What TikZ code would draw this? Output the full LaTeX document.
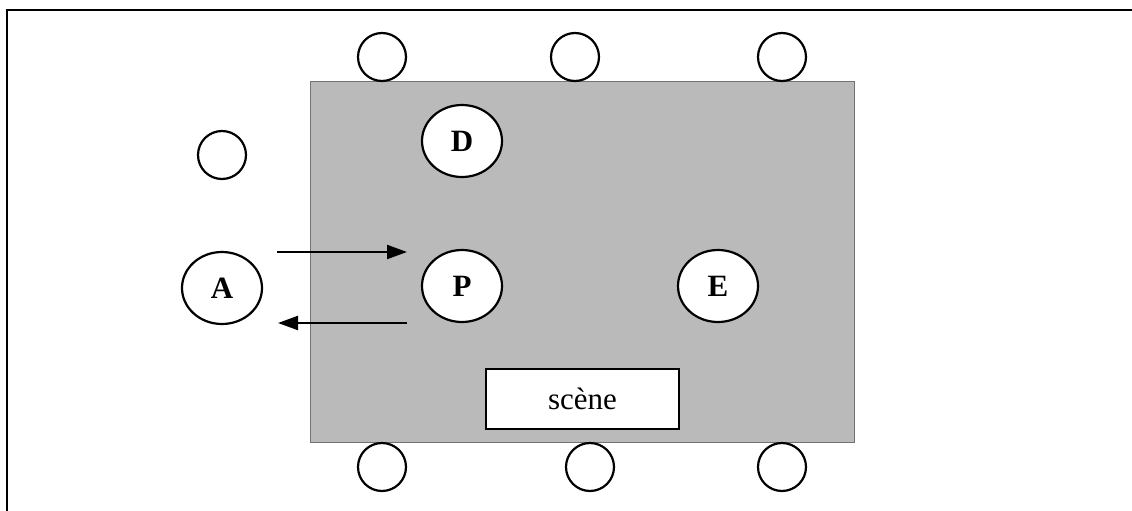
\documentclass[tikz,border=0pt]{standalone}
\usepackage{fontspec}
\setmainfont{Liberation Serif}
\usetikzlibrary{arrows.meta,shapes.geometric}
\tikzset{
  seat/.style={draw=black, line width=2.2pt, fill=white, circle, minimum size=48pt, inner sep=0pt},
  person/.style={draw=black, line width=2.2pt, fill=white, ellipse, minimum width=80pt, minimum height=72pt, inner sep=0pt, font=\fontsize{31}{31}\selectfont\bfseries},
  flow/.style={line width=2.2pt, -{Triangle[length=20pt,width=14pt]}},
}
\begin{document}
\begin{tikzpicture}[x=1pt,y=-1pt]
\useasboundingbox (0,0) rectangle (1132,511);
\fill[white] (0,0) rectangle (1132,511);
% frame (top and left edges)
\draw[line width=2.6pt] (7,511) -- (7,10) -- (1132,10);
% stage area
\node[draw=black!55, line width=0.8pt, fill=black!27, minimum width=544pt, minimum height=361pt, inner sep=0pt, anchor=north west] (room) at (310,81) {};
% seats around the stage area
\node[seat] (t1) at (382,57) {};
\node[seat] (t2) at (575,57) {};
\node[seat] (t3) at (782,57) {};
\node[seat] (b1) at (382,467) {};
\node[seat] (b2) at (590,467) {};
\node[seat] (b3) at (782,467) {};
\node[seat] (s) at (222,155) {};
% people
\node[person] (A) at (222,288) {A};
\node[person] (D) at (462,141) {D};
\node[person] (P) at (462,286) {P};
\node[person] (E) at (718,286) {E};
% scene box
\node[draw=black, line width=2.2pt, fill=white, minimum width=193pt, minimum height=60pt, inner sep=0pt, font=\fontsize{31}{31}\selectfont] (scene) at (582.5,399) {scène};
% exchanges between A and P
\coordinate (a1) at (277,252);
\coordinate (p1) at (407,252);
\coordinate (p2) at (407,323);
\coordinate (a2) at (278,323);
\draw[flow] (a1) -- (p1);
\draw[flow] (p2) -- (a2);
\end{tikzpicture}
\end{document}
